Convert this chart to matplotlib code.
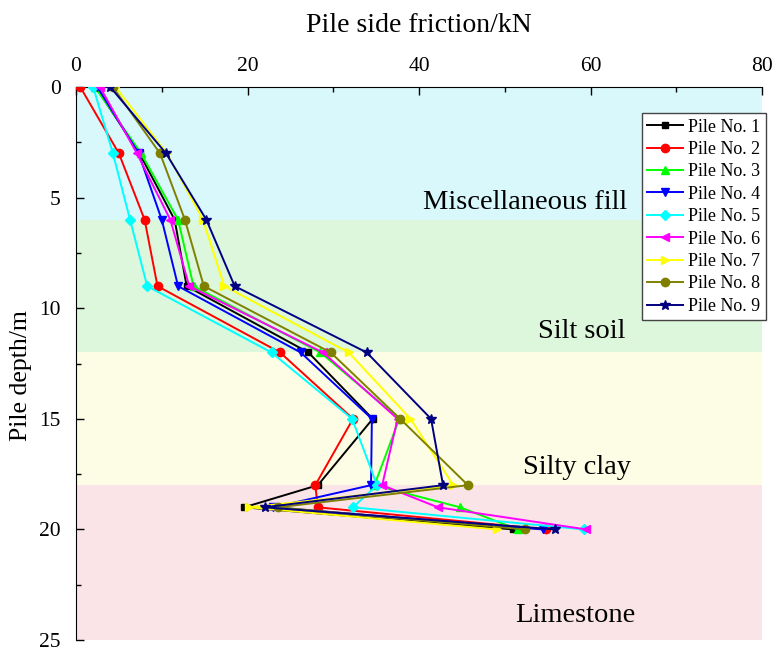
#side friction along the pile shaft, 9 test piles, with soil layers behind

import matplotlib.pyplot as plt
import numpy as np

plt.rcParams['font.family'] = ['Liberation Serif', 'DejaVu Serif']
plt.rcParams['mathtext.fontset'] = 'stix'

depth = [0, 3, 6, 9, 12, 15, 18, 19, 20]

pile_1 = [2.3, 7.4, 11.5, 12.9, 27.1, 34.6, 28.2, 19.6, 51.0]
pile_2 = [0.5, 5.0, 8.0, 9.5, 23.8, 32.3, 27.9, 28.2, 54.8]
pile_3 = [2.2, 7.6, 11.9, 13.7, 28.5, 37.7, 34.8, 44.8, 51.5]
pile_4 = [2.5, 7.3, 10.0, 11.9, 26.2, 34.5, 34.4, 23.0, 54.4]
pile_5 = [2.0, 4.3, 6.3, 8.3, 22.8, 32.2, 35.1, 32.3, 59.2]
pile_6 = [2.8, 7.1, 11.0, 13.2, 28.8, 37.5, 35.7, 42.2, 59.5]
pile_7 = [4.6, 10.6, 14.8, 17.3, 31.8, 39.0, 44.0, 20.2, 49.1]
pile_8 = [4.3, 9.8, 12.7, 14.9, 29.7, 37.8, 45.7, 23.5, 52.4]
pile_9 = [4.0, 10.5, 15.2, 18.5, 33.9, 41.4, 42.8, 22.0, 55.9]

piles = [pile_1, pile_2, pile_3, pile_4, pile_5, pile_6, pile_7, pile_8, pile_9]
labels = [f'Pile No. {i + 1}' for i in range(9)]
colors = ['black', '#ff0000', '#00ff00', '#0000ff', '#00ffff', '#ff00ff', '#ffff00', '#808000', '#000080']
markers = ['s', 'o', '^', 'v', 'D', '<', '>', 'o', '*']
msize = [5, 6, 6, 6, 5, 6, 6, 6, 7]

# soil layers: name, top, bottom, colour, label position
layers = ['Miscellaneous fill', 'Silt soil', 'Silty clay', 'Limestone']
layer_top = [0, 6, 12, 18]
layer_bot = [6, 12, 18, 25]
layer_col = ['#d9f8fc', '#dcf7dc', '#fdfde6', '#fbe4e7']
label_x = [52.4, 59.0, 58.4, 58.2]
label_y = [5.2, 11.05, 17.2, 23.9]

fig = plt.figure(figsize=(7.76, 6.52), dpi=100)
ax = fig.add_axes([0.098, 0.0184, 0.884, 0.848])

for i in range(len(layers)):
    ax.axhspan(layer_top[i], layer_bot[i], color=layer_col[i], lw=0, zorder=0)
    ax.text(label_x[i], label_y[i], layers[i], ha='center', va='center', fontsize=20.5, zorder=1)

for i in range(len(piles)):
    ax.plot(piles[i], depth, color=colors[i], marker=markers[i], markersize=msize[i],
            lw=1.4, label=labels[i], zorder=3)

ax.set_xlim(0, 80)
ax.set_ylim(25, 0)
ax.xaxis.tick_top()
ax.xaxis.set_label_position('top')
ax.set_xticks(np.arange(0, 81, 20))
ax.set_xticks(np.arange(0, 81, 10), minor=True)
ax.set_yticks(np.arange(0, 26, 5))
ax.set_yticks(np.arange(0, 26, 2.5), minor=True)
ax.tick_params(which='both', direction='in', labelsize=15.5, top=True, bottom=False, right=False)
ax.tick_params(which='major', length=6, width=1)
ax.tick_params(which='minor', length=3.5, width=1)
ax.tick_params(axis='x', pad=8)
ax.tick_params(axis='y', pad=11)
ax.spines['right'].set_visible(False)
ax.spines['bottom'].set_visible(False)
ax.set_xlabel('Pile side friction/kN', fontsize=20, labelpad=18)
ax.set_ylabel('Pile depth/m', fontsize=18.5)
ax.yaxis.set_label_coords(-0.064, 0.479)

leg = ax.legend(loc='upper right', bbox_to_anchor=(1.006, 0.953), fontsize=13, fancybox=False,
                framealpha=1, edgecolor='#444444', labelspacing=0.3, handlelength=2.0,
                handletextpad=0.3, borderpad=0.3, borderaxespad=0)
leg.get_frame().set_linewidth(1)

plt.savefig('out.png', dpi=100)
